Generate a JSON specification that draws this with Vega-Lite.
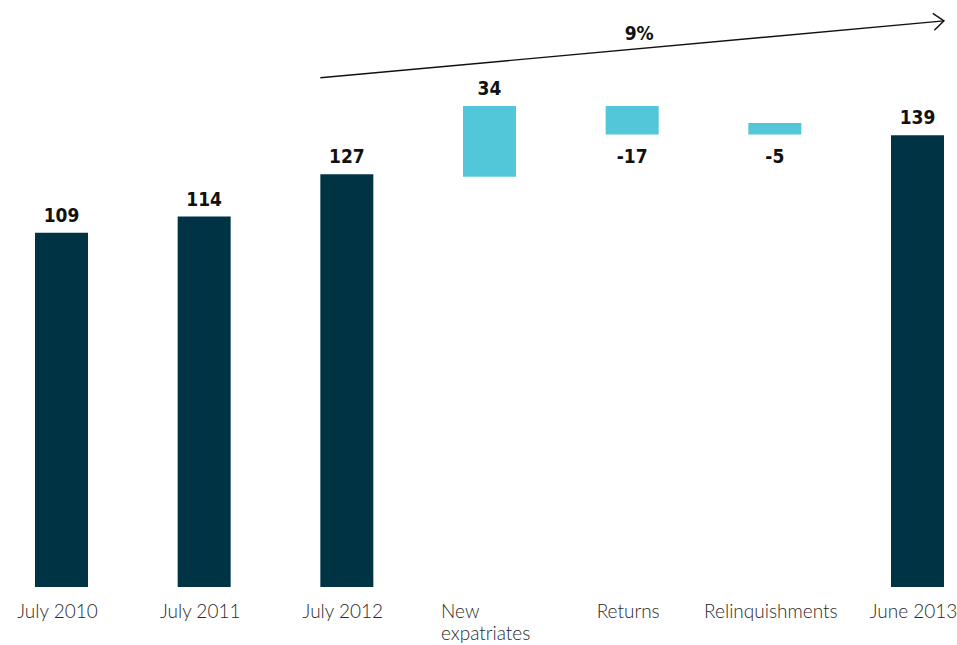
{
  "$schema": "https://vega.github.io/schema/vega-lite/v6.json",
  "width": 909,
  "height": 585,
  "autosize": {"type": "none"},
  "padding": {"left": 35, "top": 2, "right": 13, "bottom": 58},
  "background": "white",
  "config": {"view": {"stroke": null}},
  "datasets": {
    "bars": [
      {"category": "July 2010", "start": 0, "end": 109, "label": "109", "kind": "total", "pos": "top"},
      {"category": "July 2011", "start": 0, "end": 114, "label": "114", "kind": "total", "pos": "top"},
      {"category": "July 2012", "start": 0, "end": 127, "label": "127", "kind": "total", "pos": "top"},
      {"category": "New expatriates", "start": 126.2, "end": 148, "label": "34", "kind": "delta", "pos": "top"},
      {"category": "Returns", "start": 139.2, "end": 148, "label": "-17", "kind": "delta", "pos": "bottom"},
      {"category": "Relinquishments", "start": 139.2, "end": 142.8, "label": "-5", "kind": "delta", "pos": "bottom"},
      {"category": "June 2013", "start": 0, "end": 139, "label": "139", "kind": "total", "pos": "top"}
    ],
    "arrow": [
      {"from": "July 2012", "to": "June 2013", "labelAt": "Returns", "yStart": 156.7, "yEnd": 174.2, "label": "9%", "labelY": 168.3}
    ]
  },
  "encoding": {
    "x": {
      "field": "category",
      "type": "nominal",
      "scale": {
        "domain": ["July 2010", "July 2011", "July 2012", "New expatriates", "Returns", "Relinquishments", "June 2013"],
        "paddingInner": 0.6285,
        "paddingOuter": 0
      },
      "axis": {
        "title": null,
        "domain": false,
        "ticks": false,
        "grid": false,
        "labelAngle": 0,
        "labelFont": "Lato",
        "labelFontSize": 19,
        "labelFontWeight": 300,
        "labelColor": "#2a2a2a",
        "labelPadding": 15,
        "labelLineHeight": 22,
        "labelExpr": "datum.value == 'New expatriates' ? ['New', 'expatriates'] : datum.label",
        "labelAlign": {"condition": {"test": "datum.value == 'New expatriates'", "value": "left"}, "value": "center"},
        "labelOffset": {"condition": {"test": "datum.value == 'New expatriates'", "value": -48.5}, "value": -4}
      }
    }
  },
  "layer": [
    {
      "data": {"name": "bars"},
      "mark": {"type": "bar"},
      "encoding": {
        "y": {"field": "start", "type": "quantitative", "scale": {"domain": [0, 180], "nice": false}, "axis": null},
        "y2": {"field": "end"},
        "color": {
          "field": "kind",
          "type": "nominal",
          "scale": {"domain": ["total", "delta"], "range": ["#003444", "#53C7DA"]},
          "legend": null
        }
      }
    },
    {
      "data": {"name": "bars"},
      "transform": [{"filter": "datum.pos == 'top'"}],
      "mark": {"type": "text", "baseline": "alphabetic", "dy": -11, "font": "DejaVu Sans Condensed", "fontWeight": "bold", "fontSize": 19, "color": "#111111"},
      "encoding": {
        "y": {"field": "end", "type": "quantitative"},
        "text": {"field": "label"}
      }
    },
    {
      "data": {"name": "bars"},
      "transform": [{"filter": "datum.pos == 'bottom'"}],
      "mark": {"type": "text", "baseline": "alphabetic", "dy": 28.6, "font": "DejaVu Sans Condensed", "fontWeight": "bold", "fontSize": 19, "color": "#111111"},
      "encoding": {
        "y": {"field": "start", "type": "quantitative"},
        "text": {"field": "label"}
      }
    },
    {
      "data": {"name": "arrow"},
      "mark": {"type": "rule", "color": "#111111", "strokeWidth": 1.4},
      "encoding": {
        "x": {"field": "from", "type": "nominal", "bandPosition": 0},
        "x2": {"field": "to", "bandPosition": 1},
        "y": {"field": "yStart", "type": "quantitative"},
        "y2": {"field": "yEnd"}
      }
    },
    {
      "data": {"name": "arrow"},
      "mark": {"type": "point", "shape": "M-1,-0.8L0,0L-1,0.8", "filled": false, "size": 441, "angle": -5.2, "color": "#111111", "strokeWidth": 1.4, "opacity": 1},
      "encoding": {
        "x": {"field": "to", "type": "nominal", "bandPosition": 1},
        "y": {"field": "yEnd", "type": "quantitative"}
      }
    },
    {
      "data": {"name": "arrow"},
      "mark": {"type": "text", "baseline": "alphabetic", "dx": 7, "font": "DejaVu Sans Condensed", "fontWeight": "bold", "fontSize": 19, "color": "#111111"},
      "encoding": {
        "x": {"field": "labelAt", "type": "nominal"},
        "y": {"field": "labelY", "type": "quantitative"},
        "text": {"field": "label"}
      }
    }
  ]
}
